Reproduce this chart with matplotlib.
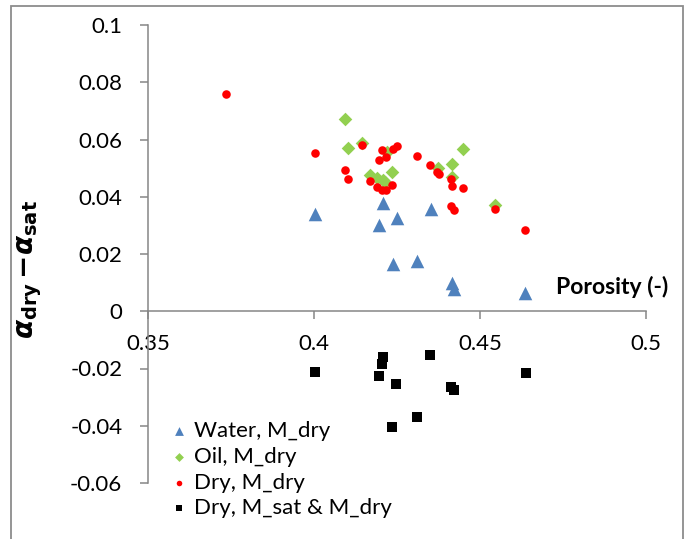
import matplotlib
matplotlib.use('Agg')
import matplotlib.pyplot as plt
from matplotlib.patches import Rectangle

# porosity (-) and alpha_dry - alpha_sat
water_x = [0.4004, 0.4207, 0.4196, 0.4249, 0.4351, 0.4237, 0.4311, 0.4415, 0.4422, 0.4636]
water_y = [0.0341, 0.0378, 0.0300, 0.0326, 0.0356, 0.0166, 0.0175, 0.0098, 0.0076, 0.0064]

oil_x = [0.4093, 0.4103, 0.4146, 0.4169, 0.4189, 0.4208, 0.4215, 0.4234, 0.4221,
         0.4372, 0.4415, 0.4450, 0.4415, 0.4546]
oil_y = [0.0671, 0.0570, 0.0589, 0.0476, 0.0467, 0.0458, 0.0452, 0.0488, 0.0557,
         0.0501, 0.0516, 0.0568, 0.0470, 0.0370]

dry_x = [0.3735, 0.4004, 0.4093, 0.4103, 0.4146, 0.4169, 0.4189, 0.4204, 0.4217,
         0.4234, 0.4196, 0.4204, 0.4217, 0.4237, 0.4249, 0.4311, 0.4349, 0.4370,
         0.4377, 0.4413, 0.4415, 0.4450, 0.4413, 0.4422, 0.4546, 0.4636]
dry_y = [0.0760, 0.0553, 0.0495, 0.0462, 0.0580, 0.0454, 0.0434, 0.0424, 0.0424,
         0.0441, 0.0530, 0.0564, 0.0540, 0.0567, 0.0578, 0.0543, 0.0510, 0.0488,
         0.0480, 0.0463, 0.0437, 0.0429, 0.0368, 0.0354, 0.0358, 0.0284]

sat_x = [0.4003, 0.4209, 0.4206, 0.4196, 0.4247, 0.4349, 0.4413, 0.4422, 0.4311,
         0.4236, 0.4638]
sat_y = [-0.0211, -0.0161, -0.0183, -0.0226, -0.0253, -0.0154, -0.0266, -0.0275,
         -0.0368, -0.0403, -0.0217]

xticks = [0.35, 0.4, 0.45, 0.5]
yticks = [-0.06, -0.04, -0.02, 0, 0.02, 0.04, 0.06, 0.08, 0.1]

plt.rcParams['font.family'] = ['Lato', 'DejaVu Sans']
plt.rcParams['axes.unicode_minus'] = False

W, H = 690, 539
fig = plt.figure(figsize=(W / 100, H / 100), dpi=100)
ax = fig.add_axes([148 / W, 1 - 483 / H, (646 - 148) / W, (483 - 25) / H])

grey = '#868686'
fig.patches.append(Rectangle((11 / W, -0.1), (683 - 11) / W, 1.1 - 6 / H,
                             transform=fig.transFigure, fill=False,
                             edgecolor='#8c8c8c', linewidth=1.3))

ax.scatter(water_x, water_y, marker='^', s=95, color='#4F81BD', linewidths=0,
           label='Water, M_dry', zorder=3)
ax.scatter(oil_x, oil_y, marker='D', s=48, color='#92D050', linewidths=0,
           label='Oil, M_dry', zorder=3)
ax.scatter(dry_x, dry_y, marker='o', s=38, color='#FF0000', linewidths=0,
           label='Dry, M_dry', zorder=4)
ax.scatter(sat_x, sat_y, marker='s', s=52, color='black', linewidths=0,
           label='Dry, M_sat & M_dry', zorder=3)

ax.set_xlim(0.35, 0.5)
ax.set_ylim(-0.06, 0.1)
ax.set_xticks(xticks)
ax.set_yticks(yticks)
ax.set_xticklabels([f'{round(v, 2):g}' for v in xticks])
ax.set_yticklabels(['0' if abs(v) < 1e-9 else f'{round(v, 2):g}' for v in yticks])

for s in ['top', 'right']:
    ax.spines[s].set_visible(False)
ax.spines['bottom'].set_position(('data', 0))
for s in ['left', 'bottom']:
    ax.spines[s].set_color(grey)
    ax.spines[s].set_linewidth(1.1)
ax.tick_params(axis='both', color=grey, width=1.1, length=5.5, labelsize=16,
               labelcolor='black')
ax.tick_params(axis='x', pad=11)
ax.tick_params(axis='y', pad=13)

ax.set_xlabel('Porosity (-)', fontsize=16.5, fontweight='bold')
ax.xaxis.set_label_coords((612 - 148) / 498, (483 - 287) / 458)
ax.xaxis.label.set_va('center')

ax.set_ylabel(r'$\boldsymbol{\alpha}_{\mathbf{dry}}\,\mathbf{-}\boldsymbol{\alpha}_{\mathbf{sat}}$',
              fontsize=20)
ax.yaxis.set_label_coords((30 - 148) / 498, (483 - 270) / 458)
ax.yaxis.label.set_va('center')

leg = ax.legend(loc='upper left', bbox_to_anchor=(172 / W, 1 - 421 / H),
                bbox_transform=fig.transFigure, frameon=False, fontsize=16,
                handlelength=0.6, handletextpad=0.4, labelspacing=0.26,
                borderpad=0, borderaxespad=0, markerscale=0.65)

fig.savefig('out.png', dpi=100)
